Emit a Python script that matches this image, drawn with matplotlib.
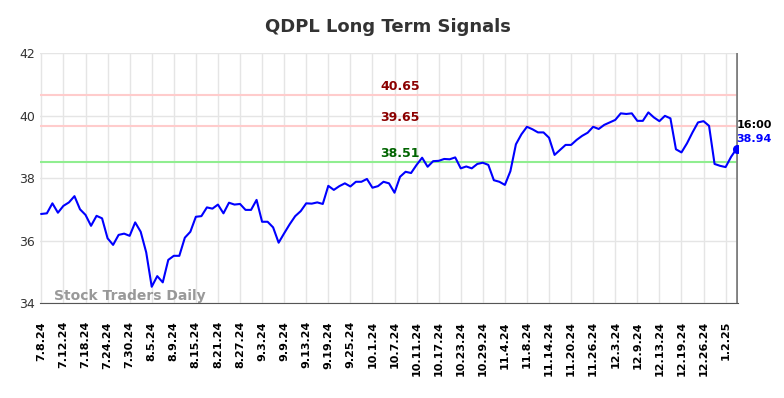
import numpy as np
import pandas as pd
import matplotlib
matplotlib.use("Agg")
import matplotlib.pyplot as plt

# trading days 7/8/24 .. 1/6/25 (market holidays removed)
holidays = ["2024-09-02", "2024-11-28", "2024-12-25", "2025-01-01"]
dates = pd.bdate_range("2024-07-08", "2025-01-06")
dates = dates[~dates.isin(pd.to_datetime(holidays))]

prices = [
    36.85, 36.87, 37.19, 36.89, 37.11, 37.22, 37.42, 37.00, 36.82, 36.47,
    36.79, 36.71, 36.07, 35.86, 36.18, 36.22, 36.15, 36.58, 36.28, 35.62,
    34.52, 34.86, 34.66, 35.38, 35.51, 35.51, 36.09, 36.28, 36.76, 36.78,
    37.06, 37.02, 37.15, 36.87, 37.21, 37.15, 37.17, 36.98, 36.98, 37.30,
    36.60, 36.60, 36.42, 35.93, 36.23, 36.52, 36.78, 36.94, 37.19, 37.18,
    37.22, 37.17, 37.75, 37.62, 37.74, 37.83, 37.73, 37.88, 37.88, 37.97,
    37.69, 37.74, 37.88, 37.83, 37.53, 38.04, 38.20, 38.16, 38.42, 38.65,
    38.36, 38.54, 38.55, 38.61, 38.60, 38.66, 38.31, 38.37, 38.31, 38.45,
    38.49, 38.42, 37.93, 37.88, 37.78, 38.22, 39.08, 39.40, 39.64, 39.56,
    39.46, 39.46, 39.29, 38.74, 38.90, 39.06, 39.06, 39.22, 39.35, 39.45,
    39.64, 39.57, 39.70, 39.78, 39.86, 40.07, 40.05, 40.07, 39.83, 39.83,
    40.10, 39.94, 39.82, 39.99, 39.91, 38.92, 38.82, 39.11, 39.46, 39.78,
    39.82, 39.67, 38.45, 38.39, 38.35, 38.68, 38.94,
]

red_levels = [40.65, 39.65]
green_level = 38.51
last_time = "16:00"

x = np.arange(len(prices))
labels = [f"{d.month}.{d.day}.{d.strftime('%y')}" for d in dates]
tick_idx = x[::4]

fig = plt.figure(figsize=(7.84, 3.98), dpi=100)
ax = fig.add_axes([0.051, 0.2387, 0.890, 0.628])

ax.plot(x, prices, color="blue", lw=1.5, zorder=3)

for lv in red_levels:
    ax.axhline(lv, color="#ffcccc", lw=1.5, zorder=2)
    ax.text(65, lv + 0.08, f"{lv:.2f}", color="darkred", fontsize=9,
            fontweight="bold", ha="center", va="bottom")
ax.axhline(green_level, color="lightgreen", lw=1.5, zorder=2)
ax.text(65, green_level + 0.08, f"{green_level:.2f}", color="darkgreen",
        fontsize=9, fontweight="bold", ha="center", va="bottom")

# last point marker and labels
last = len(prices) - 1
ax.axvline(last, color="gray", lw=2, zorder=2)
ax.plot(last, prices[-1], "o", color="blue", ms=5.5, zorder=4)
ax.annotate(last_time, (last, prices[-1]), xytext=(0, 17), textcoords="offset points",
            fontsize=8, fontweight="bold", color="black", ha="left", va="center")
ax.annotate(f"{prices[-1]:.2f}", (last, prices[-1]), xytext=(0, 7), textcoords="offset points",
            fontsize=8, fontweight="bold", color="blue", ha="left", va="center")

ax.text(0.02, 0.0, "Stock Traders Daily", transform=ax.transAxes, fontsize=10,
        fontweight="bold", color="gray", alpha=0.8, ha="left", va="bottom")

ax.set_xlim(-0.25, last + 0.2)
ax.set_ylim(34, 42)
ax.set_yticks([34, 36, 38, 40, 42])
ax.set_xticks(tick_idx)
ax.set_xticklabels([labels[i] for i in tick_idx], rotation=90, fontsize=8, fontweight="bold")
ax.tick_params(axis="y", labelsize=9, colors="#333333", length=0)
ax.tick_params(axis="x", length=0, pad=13)
ax.grid(True, color="#e5e5e5", lw=1)
ax.set_axisbelow(True)
for s in ["top", "right", "left"]:
    ax.spines[s].set_visible(False)
ax.spines["bottom"].set_color("#555555")

fig.suptitle("QDPL Long Term Signals", x=0.495, y=0.955, fontsize=13, fontweight="bold", color="#333333")

fig.savefig("out.png", dpi=100)
